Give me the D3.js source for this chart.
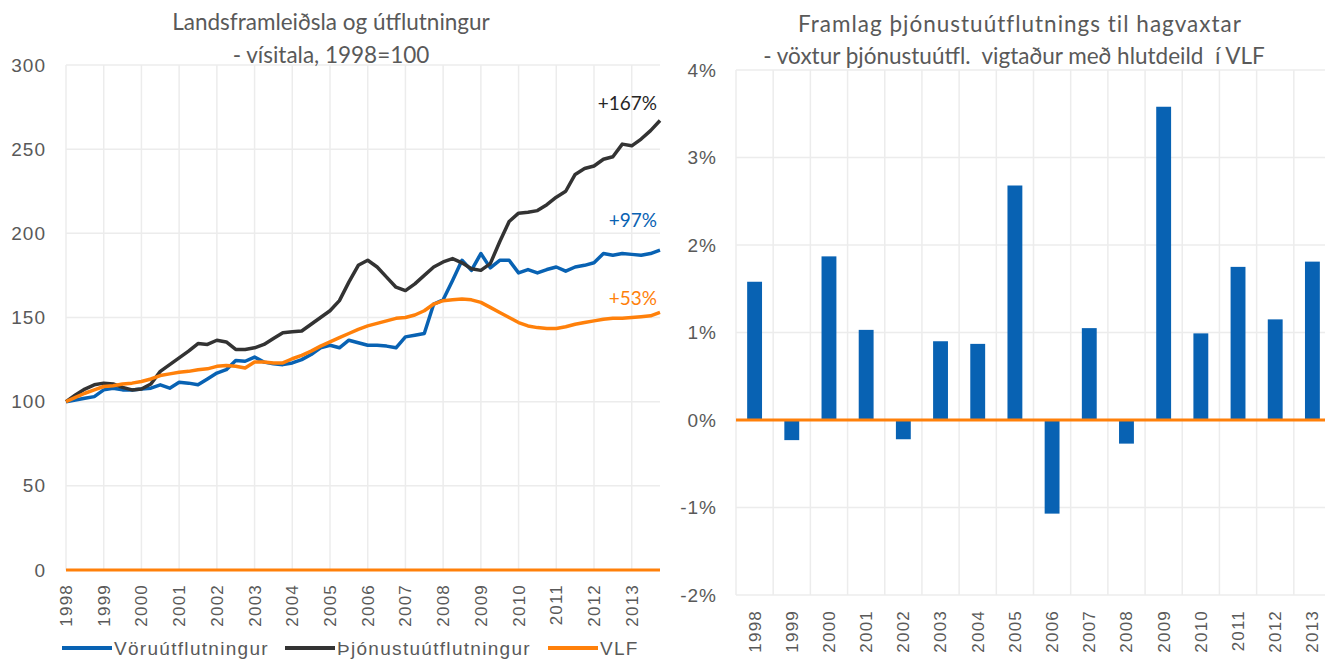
<!DOCTYPE html>
<html lang="is">
  <head>
    <meta charset="UTF-8" />
    <title>Landsframleiðsla og útflutningur</title>
    <style>
      body { margin: 0; background: #fff; }
      text { fill: #595959; }
      .tick-lbl { font-family: "Liberation Sans", Arial, sans-serif; font-size: 17px; letter-spacing: 1.2px; }
      .title { font-family: Lato, "Noto Sans", sans-serif; font-size: 22.5px; white-space: pre; }
    </style>
  </head>
  <body>
    <script src="https://d3js.org/d3.v7.min.js"></script>
    <script>
      // ársfjórðungar 1998Q1 - 2013Q4
      const years = d3.range(1998, 2014);
      const vorur = [100, 101, 102, 103, 107, 108, 107, 107,
        107.5, 108, 110, 108, 111.5, 111, 110, 113.5,
        117, 119, 124.5, 124, 126.5, 123.5, 122.5, 122,
        123, 125, 128, 132, 133.5, 132, 136.5, 135,
        133.5, 133.5, 133, 132, 138.5, 139.5, 140.5, 158,
        160.5, 172, 184, 178, 188, 179.5, 184, 184,
        176.5, 178.5, 176.5, 178.5, 180, 177.5, 180, 181,
        182.5, 188, 187, 188, 187.5, 187, 188, 190];
      const thjonusta = [100, 104, 107.5, 110, 111, 110.5, 108.5, 107,
        107.5, 110.5, 118, 122, 126, 130, 134.5, 134,
        136.5, 135.5, 131, 131, 132, 134, 137.5, 141,
        141.5, 142, 146, 150, 154, 160, 171, 181,
        184, 180, 174, 168, 166, 170, 175, 180,
        183, 185, 182.5, 179, 178, 182, 195, 207,
        212, 212.5, 213.5, 217, 221.5, 225, 235, 238.5,
        240, 244, 245.5, 253, 252, 256, 261, 267];
      const vlf = [100, 102.5, 105, 107, 109, 109.5, 110.5, 111,
        112, 113.5, 115.5, 116.5, 117.5, 118, 119, 119.5,
        121, 121.5, 121, 120, 123.5, 123.5, 123, 123,
        125.5, 127.5, 130, 133, 135.5, 138, 140.5, 143,
        145, 146.5, 148, 149.5, 150, 151.5, 154, 158,
        160, 160.5, 161, 160.5, 159, 156, 153, 150,
        147, 145, 144, 143.5, 143.5, 144.5, 146, 147,
        148, 149, 149.5, 149.5, 150, 150.5, 151, 153];
      const leftTicks = [0, 50, 100, 150, 200, 250, 300];
      const endLabels = ["+97%", "+167%", "+53%"];
      const seriesNames = ["Vöruútflutningur", "Þjónustuútflutningur", "VLF"];

      // framlag þjónustuútflutnings til hagvaxtar, %
      const framlag = [1.58, -0.23, 1.87, 1.03, -0.22, 0.9, 0.87, 2.68,
        -1.07, 1.05, -0.27, 3.58, 0.99, 1.75, 1.15, 1.81];
      const rightTicks = [-2, -1, 0, 1, 2, 3, 4];

      const blue = "#0862b3", black = "#333333", orange = "#ff800a", grid = "#ececec";

      const svg = d3.select("body").append("svg")
        .attr("width", 1325).attr("height", 659);

      // ---------- vinstri mynd ----------
      const x = d3.scaleLinear().domain([0, 63]).range([66, 660]);
      const y = d3.scaleLinear().domain([0, 300]).range([570, 65]);

      const left = svg.append("g");
      left.append("g").selectAll("line").data(leftTicks).join("line")
        .attr("x1", 66).attr("x2", 660)
        .attr("y1", d => y(d)).attr("y2", d => y(d))
        .attr("stroke", grid).attr("stroke-width", 1.5);
      left.append("g").selectAll("line").data(years).join("line")
        .attr("x1", (d, i) => x(i * 4)).attr("x2", (d, i) => x(i * 4))
        .attr("y1", y(300)).attr("y2", y(0))
        .attr("stroke", grid).attr("stroke-width", 1.5);

      left.append("g").selectAll("text").data(leftTicks).join("text")
        .attr("class", "tick-lbl")
        .attr("x", 46).attr("y", d => y(d)).attr("dy", "0.35em")
        .attr("text-anchor", "end").style("font-size", "19px").style("letter-spacing", "1px")
        .text(d => d);

      left.append("g").selectAll("text").data(years).join("text")
        .attr("class", "tick-lbl")
        .attr("transform", (d, i) => `translate(${x(i * 4)},584) rotate(-90)`)
        .attr("dy", "0.35em").attr("text-anchor", "end")
        .text(d => d);

      // 0-lína
      left.append("line").attr("x1", 66).attr("x2", 660)
        .attr("y1", y(0)).attr("y2", y(0))
        .attr("stroke", orange).attr("stroke-width", 3);

      const line = d3.line().x((d, i) => x(i)).y(d => y(d));
      const series = [
        { name: seriesNames[0], values: vorur, color: blue, label: endLabels[0] },
        { name: seriesNames[1], values: thjonusta, color: black, label: endLabels[1] },
        { name: seriesNames[2], values: vlf, color: orange, label: endLabels[2] }
      ];
      left.append("g").selectAll("path").data(series).join("path")
        .attr("d", d => line(d.values))
        .attr("fill", "none").attr("stroke", d => d.color)
        .attr("stroke-width", 3.5).attr("stroke-linejoin", "round");

      const labelY = { "+167%": 103, "+97%": 220, "+53%": 298 };
      left.append("g").selectAll("text").data(series).join("text")
        .attr("class", "title")
        .attr("x", 657).attr("y", d => labelY[d.label]).attr("dy", "0.35em")
        .attr("text-anchor", "end").style("font-size", "19px")
        .style("fill", d => d.color === black ? "#262626" : d.color)
        .text(d => d.label);

      const titleL = left.append("text").attr("class", "title").attr("text-anchor", "middle");
      titleL.append("tspan").attr("x", 331).attr("y", 30).text("Landsframleiðsla og útflutningur");
      titleL.append("tspan").attr("x", 331).attr("y", 63).text("- vísitala, 1998=100");

      // skýringar
      const legX = [62, 285, 548];
      const leg = left.append("g").selectAll("g").data(series).join("g")
        .attr("transform", (d, i) => `translate(${legX[i]},648)`);
      leg.append("line").attr("x1", 0).attr("x2", 50)
        .attr("stroke", d => d.color).attr("stroke-width", 4);
      leg.append("text").attr("class", "tick-lbl").attr("x", 52).attr("dy", "0.35em")
        .style("font-size", "19px").style("letter-spacing", "1.3px").text(d => d.name);

      // ---------- hægri mynd ----------
      const xb = d3.scaleBand().domain(years).range([736, 1331]).paddingInner(0.6).paddingOuter(0.3);
      const yb = d3.scaleLinear().domain([-2, 4]).range([595, 70]);
      const step = xb.step();
      const right = svg.append("g");

      right.append("g").selectAll("line").data(rightTicks).join("line")
        .attr("x1", 736).attr("x2", 1331)
        .attr("y1", d => yb(d)).attr("y2", d => yb(d))
        .attr("stroke", grid).attr("stroke-width", 1.5);
      right.append("g").selectAll("line").data(years).join("line")
        .attr("x1", (d, i) => 736 + i * step).attr("x2", (d, i) => 736 + i * step)
        .attr("y1", yb(4)).attr("y2", yb(-2))
        .attr("stroke", grid).attr("stroke-width", 1.5);

      right.append("g").selectAll("text").data(rightTicks).join("text")
        .attr("class", "tick-lbl")
        .attr("x", 717).attr("y", d => yb(d)).attr("dy", "0.35em")
        .attr("text-anchor", "end").style("font-size", "19px").style("letter-spacing", "1px")
        .text(d => d + "%");

      right.append("g").selectAll("text").data(years).join("text")
        .attr("class", "tick-lbl")
        .attr("transform", d => `translate(${xb(d) + xb.bandwidth() / 2},610) rotate(-90)`)
        .attr("dy", "0.35em").attr("text-anchor", "end")
        .text(d => d);

      right.append("g").selectAll("rect").data(framlag).join("rect")
        .attr("x", (d, i) => xb(years[i]))
        .attr("width", xb.bandwidth())
        .attr("y", d => yb(Math.max(0, d)))
        .attr("height", d => Math.abs(yb(d) - yb(0)))
        .attr("fill", blue);

      right.append("line").attr("x1", 736).attr("x2", 1331)
        .attr("y1", yb(0)).attr("y2", yb(0))
        .attr("stroke", orange).attr("stroke-width", 3);

      const titleR = right.append("text").attr("class", "title").attr("text-anchor", "middle");
      titleR.append("tspan").attr("x", 1020).attr("y", 32).style("letter-spacing", "1px")
        .text("Framlag þjónustuútflutnings til hagvaxtar");
      titleR.append("tspan").attr("x", 1014).attr("y", 64).text("- vöxtur þjónustuútfl.  vigtaður með hlutdeild  í VLF");
    </script>
  </body>
</html>
